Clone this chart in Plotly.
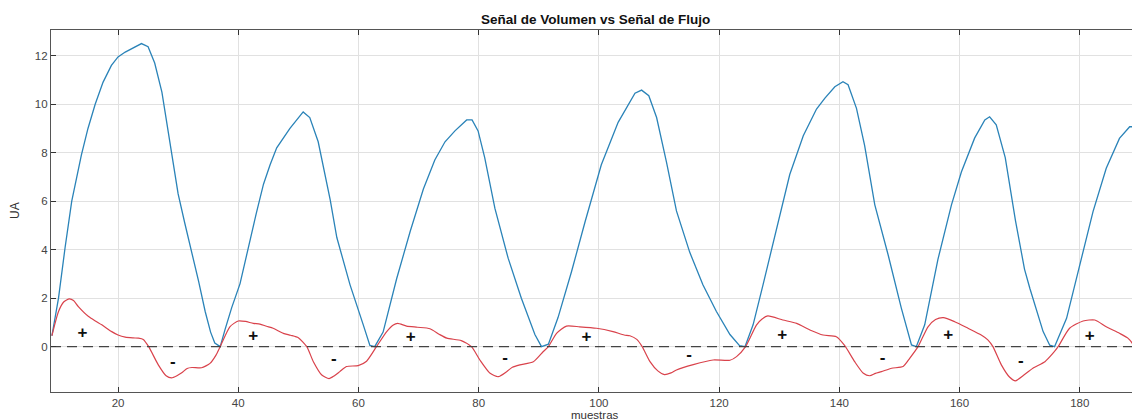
import plotly.graph_objects as go

# Volume signal (blue)
vol_x = [9.0, 10.1, 11.2, 12.3, 13.9, 15.0, 16.2, 17.5, 18.9, 20.0, 21.2, 22.3, 23.9, 25.0, 26.1, 27.3,
         28.9, 30.0, 31.1, 32.3, 33.4, 34.5, 35.4, 36.1, 37.0, 37.8, 38.9, 40.3, 41.1, 42.0, 43.0, 44.2,
         45.3, 46.4, 48.6, 50.8, 51.9, 53.3, 54.7, 55.3, 56.4, 58.6, 60.8, 61.9, 62.7, 64.1, 66.35, 68.6, 70.8,
         72.7, 74.4, 76.05, 78.0, 78.9, 79.9, 81.0, 82.7, 84.9, 87.1, 89.35, 90.45, 91.6, 93.2, 95.45,
         97.7, 100.4, 103.2, 105.15, 106.0, 107.1, 108.3, 109.6, 111.25, 112.9, 115.1, 117.3, 119.55,
         121.8, 123.4, 124.3, 125.65, 127.3, 129.55, 131.75, 134.0, 136.2, 137.6, 139.25, 140.6, 141.45,
         142.85, 144.2, 145.9, 148.1, 150.3, 152.0, 152.8, 154.2, 156.4, 158.65, 160.3, 162.5, 164.2,
         165.0, 166.1, 167.6, 169.3, 170.8, 171.7, 173.9, 175.0, 175.8, 177.8, 180.0, 182.2, 184.4,
         186.6, 188.3, 189.1, 190.0]
vol_y = [0.45, 2.0, 4.1, 6.0, 7.9, 9.0, 10.0, 10.9, 11.6, 11.95, 12.15, 12.3, 12.5, 12.37, 11.7, 10.5,
         8.05, 6.3, 5.1, 3.9, 2.7, 1.45, 0.6, 0.15, 0.0, 0.7, 1.6, 2.6, 3.5, 4.5, 5.5, 6.7,
         7.5, 8.2, 9.0, 9.68, 9.45, 8.45, 6.7, 6.05, 4.5, 2.55, 0.9, 0.05, 0.0, 0.6, 2.8, 4.75, 6.5,
         7.7, 8.45, 8.9, 9.35, 9.35, 8.9, 7.8, 5.7, 3.65, 2.0, 0.5, 0.0, 0.1, 1.2, 3.1,
         5.15, 7.5, 9.25, 10.1, 10.45, 10.58, 10.35, 9.45, 7.6, 5.6, 3.9, 2.55, 1.45,
         0.5, 0.04, 0.0, 0.9, 2.55, 4.9, 7.1, 8.7, 9.8, 10.25, 10.72, 10.93, 10.8,
         9.83, 8.3, 5.85, 3.8, 1.6, 0.07, 0.0, 0.9, 3.6, 5.85, 7.2, 8.6, 9.35,
         9.48, 9.15, 7.8, 5.2, 3.2, 2.4, 0.62, 0.06, 0.0, 1.17, 3.37, 5.57, 7.36,
         8.59, 9.07, 9.07, 8.55]

# Flow signal (red)
flow_x = [9.0, 10.1, 11.0, 11.9, 12.6, 13.4, 15.1, 16.3, 17.3, 18.95, 20.0, 21.2, 22.5, 23.4, 24.2,
          25.1, 26.7, 28.0, 28.9, 29.8, 30.6, 31.5, 32.3, 33.9, 35.3, 36.3, 37.0, 38.6, 40.0, 41.2,
          42.5, 43.6, 44.7, 45.8, 47.5, 48.7, 50.0, 51.4, 52.5, 53.9, 55.1, 56.0, 56.9, 58.0, 59.95,
          61.35, 63.0, 64.7, 65.8, 66.5, 68.0, 69.8, 71.9, 73.5, 74.7, 77.1, 78.8, 80.2, 81.9, 83.25,
          84.65, 85.6, 86.85, 89.1, 90.75, 91.6, 92.95, 94.6, 96.8, 99.6, 102.35, 104.2, 105.15, 106.3,
          107.2, 108.5, 109.8, 110.9, 112.0, 112.9, 115.7, 119.0, 121.8, 122.9, 124.4, 126.2, 127.2,
          128.1, 130.6, 132.9, 135.1, 137.3, 139.5, 140.9, 142.55, 144.0, 145.05, 146.0, 147.0, 148.7,
          150.6, 151.7, 153.1, 154.75, 156.0, 157.3, 159.2, 161.4, 163.6, 164.7, 165.55, 166.95, 168.3,
          169.3, 170.55, 172.2, 174.2, 175.55, 176.4, 178.3, 180.55, 182.5, 184.4, 186.6, 188.0, 189.1,
          190.0]
flow_y = [0.45, 1.45, 1.85, 1.97, 1.9, 1.65, 1.24, 1.05, 0.9, 0.62, 0.48, 0.39, 0.36, 0.35, 0.3,
          0.0, -0.75, -1.2, -1.29, -1.2, -1.08, -0.9, -0.86, -0.87, -0.69, -0.35, 0.0, 0.82, 1.06, 1.04,
          0.96, 0.93, 0.84, 0.76, 0.55, 0.47, 0.37, 0.0, -0.62, -1.17, -1.32, -1.2, -1.03, -0.82, -0.78,
          -0.6, 0.0, 0.62, 0.89, 0.96, 0.85, 0.8, 0.74, 0.5, 0.35, 0.25, 0.0, -0.55, -1.1, -1.24,
          -1.03, -0.85, -0.75, -0.62, -0.2, 0.0, 0.55, 0.85, 0.82, 0.76, 0.62, 0.48, 0.45, 0.3,
          0.0, -0.62, -1.0, -1.15, -1.08, -0.96, -0.74, -0.55, -0.56, -0.41, 0.0, 0.89, 1.15,
          1.27, 1.1, 0.96, 0.69, 0.48, 0.41, 0.04, -0.62, -1.1, -1.2, -1.1, -1.03, -0.89,
          -0.82, -0.48, 0.0, 0.82, 1.12, 1.2, 1.03, 0.76, 0.48, 0.28, 0.0, -0.75, -1.25,
          -1.41, -1.2, -0.89, -0.62, -0.27, 0.0, 0.76, 1.06, 1.1, 0.82, 0.55, 0.35, 0.0,
          -0.48]

# Sign labels
sign_x = [14.1, 29.1, 42.5, 55.9, 68.7, 84.4, 97.95, 115.0, 130.5, 147.2, 158.1, 170.2, 181.65]
sign_y = [0.52, -0.66, 0.39, -0.55, 0.37, -0.48, 0.37, -0.37, 0.47, -0.48, 0.47, -0.63, 0.41]
sign_text = ["+", "-", "+", "-", "+", "-", "+", "-", "+", "-", "+", "-", "+"]

x_range = [8.85, 189.85]
y_range = [-1.87, 13.06]
x_ticks = [20, 40, 60, 80, 100, 120, 140, 160, 180]
y_ticks = [0, 2, 4, 6, 8, 10, 12]

fig = go.Figure()
fig.add_trace(go.Scatter(x=vol_x, y=vol_y, mode="lines",
                         line=dict(color="#2a83b8", width=1.3), showlegend=False))
fig.add_trace(go.Scatter(x=flow_x, y=flow_y, mode="lines",
                         line=dict(color="#d9424b", width=1.2, shape="spline", smoothing=0.6),
                         showlegend=False))
fig.add_trace(go.Scatter(x=x_range, y=[0, 0], mode="lines",
                         line=dict(color="#444444", width=1.3, dash="10px,6px"), showlegend=False))
fig.add_trace(go.Scatter(x=sign_x, y=sign_y, mode="text", text=sign_text,
                         textfont=dict(family="Liberation Sans, Arial", size=17, color="#111111",
                                       weight="bold"),
                         textposition="middle center", showlegend=False))

axis_common = dict(showline=True, linecolor="#555555", linewidth=1.2, mirror="ticks",
                   ticks="inside", ticklen=5, tickwidth=1, tickcolor="#333333",
                   showgrid=True, gridcolor="#e1e1e1", gridwidth=1, zeroline=False,
                   tickfont=dict(family="Liberation Sans, Arial", size=11.5, color="#444444"))

fig.update_xaxes(range=x_range, tickvals=x_ticks, **axis_common)
fig.update_yaxes(range=y_range, tickvals=y_ticks, **axis_common)

# The page adds an 8px body margin, so the figure is sized to fit the window
fig.update_layout(
    width=1132, height=412,
    margin=dict(l=43, r=1, t=22, b=28),
    plot_bgcolor="white", paper_bgcolor="white",
    font=dict(family="Liberation Sans, Arial"),
    annotations=[
        dict(text="<b>Señal de Volumen vs Señal de Flujo</b>", xref="paper", yref="paper",
             x=0.5, y=1, yshift=11, showarrow=False,
             font=dict(size=13.5, color="#111111"), xanchor="center", yanchor="middle"),
        dict(text="muestras", xref="paper", yref="paper", x=0.5, y=0, yshift=-23,
             showarrow=False, font=dict(size=11.5, color="#333333"),
             xanchor="center", yanchor="middle"),
        dict(text="UA", xref="paper", yref="paper", x=0, xshift=-36, y=0.5,
             showarrow=False, textangle=-90, font=dict(size=12, color="#333333"),
             xanchor="center", yanchor="middle"),
    ],
)

fig.write_html("out.html")
